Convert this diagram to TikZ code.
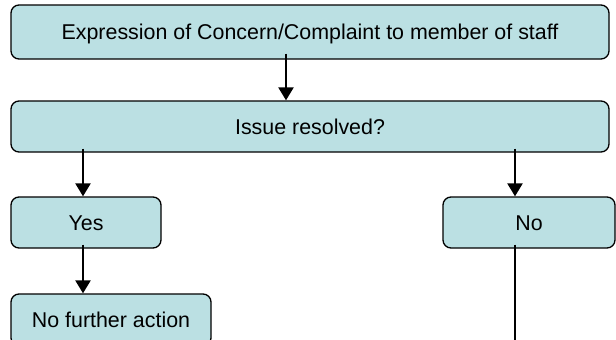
\documentclass[tikz,border=0pt]{standalone}
\usepackage{fontspec}
\setmainfont{Liberation Sans}
\usetikzlibrary{arrows.meta,calc}
\definecolor{boxfill}{RGB}{187,224,227}
\tikzset{
  box/.style={draw=black, fill=boxfill, line width=1.3pt, rounded corners=8pt,
    inner sep=0pt, font=\fontsize{21.4}{25}\selectfont, text height=15.3pt, text depth=0pt},
  arr/.style={line width=2.4pt, -{Triangle[length=13pt,width=15pt]}},
  plain/.style={line width=2.4pt}
}
\begin{document}
\begin{tikzpicture}[x=1pt,y=-1pt]
\useasboundingbox (0,0) rectangle (616,340);
\node[box, minimum width=598pt, minimum height=54pt] (top) at (310,32) {Expression of Concern/Complaint to member of staff};
\node[box, minimum width=598pt, minimum height=51pt] (q) at (310,126.5) {Issue resolved?};
\node[box, minimum width=150pt, minimum height=51pt] (yes) at (86,222.5) {Yes};
\node[box, minimum width=172pt, minimum height=51pt] (no) at (529,222.5) {No};
\node[box, minimum width=200pt, minimum height=52pt] (nfa) at (111,320) {No further action};
\coordinate (noend) at (515,360);
\draw[arr] ($(top.south)+(-24,-6)$) -- ($(q.north)+(-24,0)$);
\draw[arr] ($(q.south -| yes.north)+(-3,-4)$) -- ($(yes.north)+(-3,0)$);
\draw[arr] ($(q.south -| no.north)+(-14,-4)$) -- ($(no.north)+(-14,0)$);
\draw[arr] ($(yes.south)+(-3,-4)$) -- ($(nfa.north -| yes.north)+(-3,0)$);
\draw[plain] ($(no.south)+(-14,-4)$) -- (noend);
\end{tikzpicture}
\end{document}
